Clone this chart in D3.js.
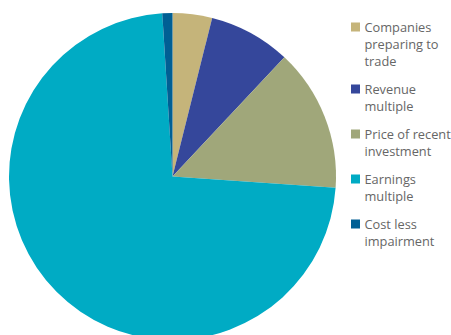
<!DOCTYPE html>
<html>
<head>
<meta charset="utf-8">
<script src="https://cdn.jsdelivr.net/npm/d3@7"></script>
<style>
  body { margin: 0; background: #fff; }
  svg { display: block; }
  .legend text { font-family: "Open Sans", sans-serif; font-size: 12.8px; fill: #666; }
</style>
</head>
<body>
<div id="chart"></div>
<script>
var categories = ["Companies preparing to trade", "Revenue multiple", "Price of recent investment", "Earnings multiple", "Cost less impairment"];
var legendLines = [["Companies", "preparing to", "trade"], ["Revenue", "multiple"], ["Price of recent", "investment"], ["Earnings", "multiple"], ["Cost less", "impairment"]];
var values = [3.9, 8.1, 14.1, 72.9, 1.0];
var colors = ["#c5b47a", "#35479b", "#a0a77a", "#00abc4", "#005f94"];

var width = 451, height = 335;
var cx = 172.5, cy = 176.5, radius = 163.5;

var svg = d3.select("#chart").append("svg")
    .attr("width", width)
    .attr("height", height);

var data = categories.map(function(c, i) { return { name: c, value: values[i], color: colors[i], lines: legendLines[i] }; });

var pie = d3.pie().sort(null).value(function(d) { return d.value; });
var arc = d3.arc().innerRadius(0).outerRadius(radius);

var g = svg.append("g").attr("transform", "translate(" + cx + "," + cy + ")");
g.selectAll("path")
    .data(pie(data))
    .enter().append("path")
    .attr("d", arc)
    .attr("fill", function(d) { return d.data.color; });

// legend
var lineH = 17, gap = 11;
var legend = svg.append("g").attr("class", "legend");
var y = 32;
data.forEach(function(d) {
  var item = legend.append("g").attr("transform", "translate(351," + y + ")");
  item.append("rect")
      .attr("x", 0).attr("y", -9.5)
      .attr("width", 9).attr("height", 9)
      .attr("fill", d.color);
  d.lines.forEach(function(l, k) {
    item.append("text").attr("x", 13.5).attr("y", k * lineH).text(l);
  });
  y += d.lines.length * lineH + gap;
});
</script>
</body>
</html>
